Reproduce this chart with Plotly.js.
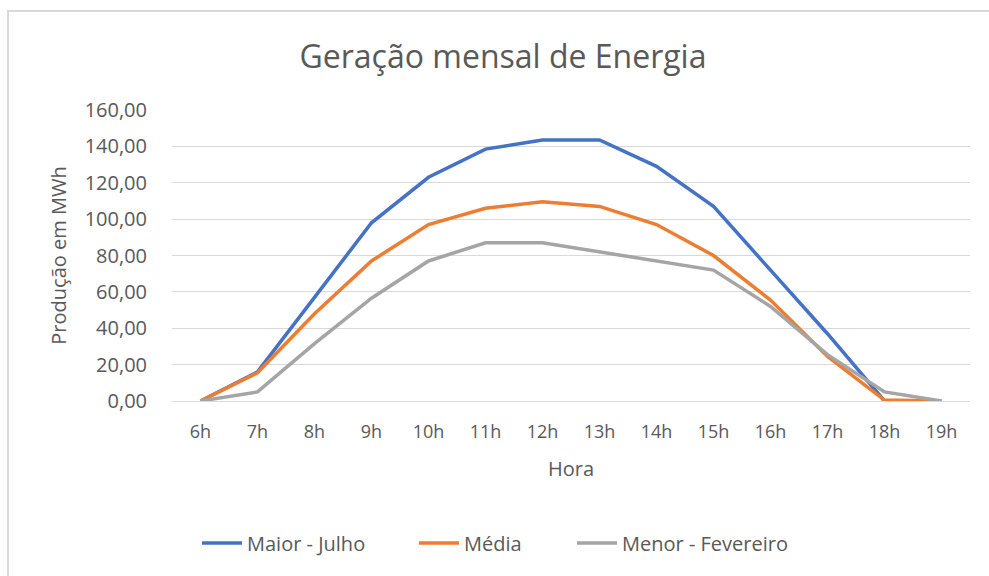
<!DOCTYPE html>
<html>
<head>
<meta charset="utf-8">
<script src="https://cdn.plot.ly/plotly-3.0.1.min.js"></script>
<style>
html,body{margin:0;padding:0;background:#fff;}
#chart{width:989px;height:576px;}
</style>
</head>
<body>
<div id="chart"></div>
<script>
const hours = ["6h","7h","8h","9h","10h","11h","12h","13h","14h","15h","16h","17h","18h","19h"];
const maiorJulho = [0, 16, 57, 98, 123, 138.5, 143.5, 143.5, 129, 107, 72, 37, 0, 0];
const media = [0, 15.5, 48, 77, 97, 106, 109.5, 107, 97, 80, 55.5, 24.5, 0.5, 0];
const menorFevereiro = [0, 5, 31.5, 56.5, 77, 87, 87, 82, 77, 72, 52, 25.5, 5, 0];
const seriesNames = ["Maior - Julho", "Média", "Menor - Fevereiro"];
const yTicks = [0, 20, 40, 60, 80, 100, 120, 140, 160];

const colors = ["#4472C4", "#ED7D31", "#A5A5A5"];
const seriesData = [maiorJulho, media, menorFevereiro];
const legendIds = ["legend", "legend2", "legend3"];
const FONT = "Open Sans, Noto Sans, sans-serif";
const TXT = "#595959";

const traces = seriesData.map((ys, i) => ({
  type: "scatter",
  mode: "lines",
  x: hours,
  y: ys,
  name: seriesNames[i],
  legend: legendIds[i],
  line: {color: colors[i], width: 3.5},
  hoverinfo: "skip"
}));

// plot area: x 172..970 px, y 110..401 px
const px2x = p => (p - 172) / 798;
const py2y = p => (401 - p) / 291;
const legendLeft = [203, 420, 578];
function legendDef(px) {
  return {
    orientation: "h",
    x: px2x(px - 6), xanchor: "left",
    y: py2y(543), yanchor: "middle",
    font: {family: FONT, size: 20, color: TXT},
    bgcolor: "rgba(0,0,0,0)",
    itemwidth: 40
  };
}

const layout = {
  width: 989, height: 576,
  margin: {l: 172, r: 19, t: 110, b: 175},
  paper_bgcolor: "#fff",
  plot_bgcolor: "#fff",
  separators: ",.",
  font: {family: FONT, color: TXT},
  title: {
    text: "Geração mensal de Energia",
    font: {family: FONT, size: 32, color: TXT},
    x: 503 / 989, xanchor: "center", xref: "container",
    y: 1 - 57 / 576, yref: "container", yanchor: "middle"
  },
  xaxis: {
    type: "category",
    range: [-0.5, 13.5],
    showgrid: false,
    zeroline: false,
    showline: false,
    ticks: "outside", ticklen: 14, tickcolor: "rgba(0,0,0,0)",
    tickfont: {family: FONT, size: 18, color: TXT},
    title: {text: "Hora", font: {family: FONT, size: 20, color: TXT}, standoff: 20}
  },
  yaxis: {
    range: [0, 160],
    tickvals: yTicks,
    tickformat: ".2f",
    showgrid: true, gridcolor: "#D9D9D9", gridwidth: 1,
    zeroline: true, zerolinecolor: "#D9D9D9", zerolinewidth: 1,
    showline: false,
    ticks: "outside", ticklen: 20, tickcolor: "rgba(0,0,0,0)",
    tickfont: {family: FONT, size: 20, color: TXT},
    title: {text: "Produção em MWh", font: {family: FONT, size: 20, color: TXT}, standoff: 12}
  },
  legend: legendDef(legendLeft[0]),
  legend2: legendDef(legendLeft[1]),
  legend3: legendDef(legendLeft[2]),
  showlegend: true,
  shapes: [{
    type: "rect", xref: "paper", yref: "paper",
    x0: px2x(8), x1: 1.2,
    y0: -1, y1: py2y(11),
    line: {color: "#D9D9D9", width: 2},
    fillcolor: "rgba(0,0,0,0)",
    layer: "below"
  }]
};

Plotly.newPlot("chart", traces, layout, {displayModeBar: false, staticPlot: true});
</script>
</body>
</html>
